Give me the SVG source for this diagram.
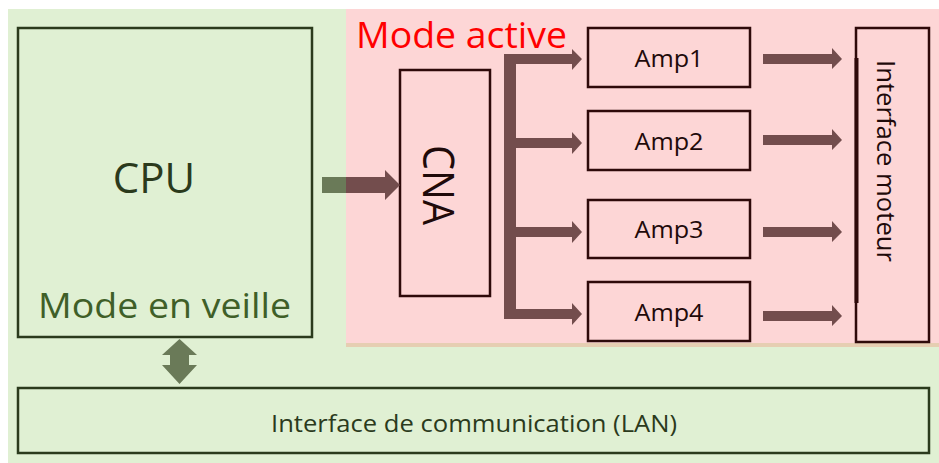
<svg xmlns="http://www.w3.org/2000/svg" width="939" height="463" viewBox="0 0 939 463">
<style>
.gbox{fill:none;stroke:#2b3a1c;stroke-width:2.5}
.pbox{fill:#fdd6d6;stroke:#2e0a0a;stroke-width:2.5}
.arr{fill:#734d4d}
.garr{fill:#6a7a58}
.t{font-family:"Open Sans","Liberation Sans",sans-serif}
.amp{font-size:24px;fill:#1f0a0a;text-anchor:middle}
</style>
<rect x="8" y="9" width="931" height="454" fill="#e0f0d3"/>
<rect x="346" y="9" width="593" height="334" fill="#fdd6d6"/>
<rect x="346" y="343" width="593" height="4" fill="#e6ceb2"/>
<text class="t" x="356" y="48" font-size="36" fill="#ff0000" textLength="211" lengthAdjust="spacingAndGlyphs">Mode active</text>

<g id="cpu">
<rect class="gbox" x="18" y="28" width="294" height="309"/>
<text class="t" x="154" y="193" font-size="42" fill="#2b3a1c" text-anchor="middle">CPU</text>
<text class="t" x="38" y="318" font-size="35" fill="#3f5f28" textLength="253" lengthAdjust="spacingAndGlyphs">Mode en veille</text>
</g>

<g id="cna">
<rect class="pbox" x="400" y="70" width="90" height="226"/>
<text class="t" transform="translate(423,145) rotate(90)" font-size="44" fill="#1f0a0a" textLength="80" lengthAdjust="spacingAndGlyphs">CNA</text>
</g>

<g id="amp1">
<rect class="pbox" x="588" y="28" width="162" height="59"/>
<text class="t amp" x="669" y="67" textLength="69" lengthAdjust="spacingAndGlyphs">Amp1</text>
</g>
<g id="amp2">
<rect class="pbox" x="588" y="111" width="162" height="59"/>
<text class="t amp" x="669" y="150" textLength="69" lengthAdjust="spacingAndGlyphs">Amp2</text>
</g>
<g id="amp3">
<rect class="pbox" x="588" y="200" width="162" height="58"/>
<text class="t amp" x="669" y="238" textLength="69" lengthAdjust="spacingAndGlyphs">Amp3</text>
</g>
<g id="amp4">
<rect class="pbox" x="588" y="282" width="162" height="59"/>
<text class="t amp" x="669" y="321" textLength="69" lengthAdjust="spacingAndGlyphs">Amp4</text>
</g>

<g id="moteur">
<rect class="pbox" x="856" y="28" width="73" height="314"/>
<line x1="856.5" y1="58" x2="856.5" y2="303" stroke="#2e0a0a" stroke-width="4"/>
<text class="t" transform="translate(877,60) rotate(90)" font-size="26" fill="#1f0a0a" textLength="202" lengthAdjust="spacingAndGlyphs">Interface moteur</text>
</g>

<g id="lan">
<rect class="gbox" x="18" y="388" width="911" height="65"/>
<text class="t" x="474" y="432" font-size="23" fill="#2b3a1c" text-anchor="middle" textLength="406" lengthAdjust="spacingAndGlyphs">Interface de communication (LAN)</text>
</g>

<g id="connectors">
<rect class="garr" x="322" y="177" width="24" height="16"/>
<polygon class="arr" points="346,177 385,177 385,170 400,185 385,200 385,193 346,193"/>
<polygon class="arr" points="504,54 572,54 572,49 582,59 572,70 572,64 516,64 516,138 572,138 572,132 582,143 572,154 572,148 516,148 516,227 572,227 572,221 582,232 572,243 572,237 516,237 516,309 572,309 572,303 582,314 572,325 572,319 504,319"/>
<polygon class="arr" points="763,54 832,54 832,48 842,59 832,69 832,64 763,64"/>
<polygon class="arr" points="763,135 832,135 832,129 842,140 832,150 832,145 763,145"/>
<polygon class="arr" points="763,227 832,227 832,221 842,232 832,242 832,237 763,237"/>
<polygon class="arr" points="763,311 832,311 832,305 842,316 832,326 832,321 763,321"/>
<polygon class="garr" points="179.5,339 197,355 189,355 189,365 197,365 179.5,384 162,365 170,365 170,355 162,355"/>
</g>
</svg>
